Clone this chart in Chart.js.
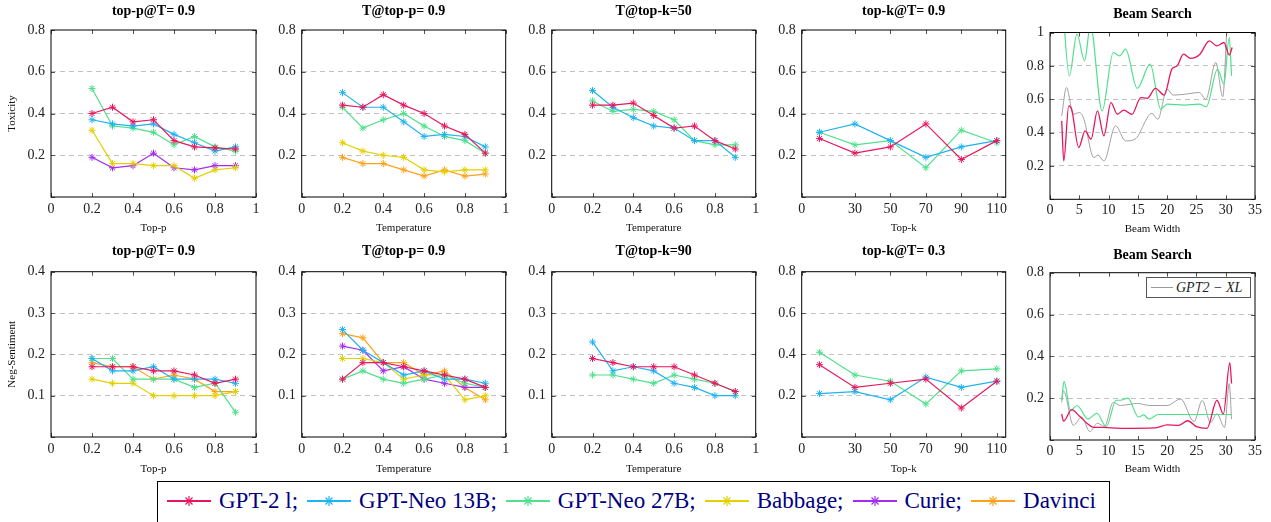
<!DOCTYPE html>
<html>
<head>
<meta charset="utf-8">
<script src="https://cdn.jsdelivr.net/npm/chart.js@4.4.1/dist/chart.umd.min.js"></script>
<style>
  body { margin: 0; background: #fff; width: 1271px; height: 522px; overflow: hidden; position: relative; font-family: "Liberation Serif", serif; }
  canvas { position: absolute; }
  #legend {
    position: absolute; left: 157px; top: 481px; width: 953px; height: 44px;
    box-sizing: border-box; border: 1px solid #000; background: #fff;
    display: flex; align-items: center; padding: 0 0 4px 9px;
    font-size: 23px; color: #000080; white-space: nowrap;
  }
  #legend .item { display: flex; align-items: center; margin-right: 9px; }
  #legend svg { margin-right: 8px; }
  #beamKey {
    position: absolute; left: 1146px; top: 277px; width: 105px; height: 21px;
    box-sizing: border-box; border: 1.3px solid #555; background: #fff; z-index: 2;
    display: flex; align-items: center; padding-left: 4px;
    font-style: italic; font-size: 14px; color: #222; white-space: nowrap;
  }
  #beamKey span.line { display: inline-block; width: 22px; border-top: 1px solid #9a9a9a; margin-right: 3px; }
</style>
</head>
<body>
<div id="legend"></div>
<div id="beamKey"><span class="line"></span><span id="beamKeyText"></span></div>
<script>
'use strict';

// series: GPT-2 l, GPT-Neo 13B, GPT-Neo 27B, Babbage, Curie, Davinci
const seriesNames = ['GPT-2 l', 'GPT-Neo 13B', 'GPT-Neo 27B', 'Babbage', 'Curie', 'Davinci'];
const seriesColors = ['#e8175d', '#1fb3f2', '#4fe08c', '#e3d000', '#a42cf2', '#ffa11c'];
const xlName = 'GPT2 \u2212 XL';
const xlColor = '#a0a0a0';

const pValues = [0.2, 0.3, 0.4, 0.5, 0.6, 0.7, 0.8, 0.9];
const tempValues = [0.2, 0.3, 0.4, 0.5, 0.6, 0.7, 0.8, 0.9];
const topkValues = [10, 30, 50, 70, 90, 110];

const unitTicks = [0, 0.2, 0.4, 0.6, 0.8, 1];
const topkTicks = [0, 30, 50, 70, 90, 110];
const beamTicks = [0, 5, 10, 15, 20, 25, 30, 35];
const toxTicks = [0, 0.2, 0.4, 0.6, 0.8];
const sentTicks = [0, 0.1, 0.2, 0.3, 0.4];
const beamToxTicks = [0, 0.2, 0.4, 0.6, 0.8, 1];

// toxicity (top row); null = series not in that panel
const toxTopP = [
  [0.40, 0.43, 0.36, 0.37, 0.27, 0.24, 0.235, 0.23],
  [0.37, 0.35, 0.34, 0.35, 0.30, 0.26, 0.22, 0.24],
  [0.52, 0.34, 0.33, 0.31, 0.25, 0.29, 0.24, 0.22],
  [0.32, 0.16, 0.16, 0.15, 0.15, 0.09, 0.13, 0.14],
  [0.19, 0.14, 0.15, 0.21, 0.14, 0.13, 0.15, 0.15],
  null
];
const toxTemp = [
  [0.44, 0.43, 0.49, 0.44, 0.40, 0.34, 0.30, 0.21],
  [0.50, 0.43, 0.43, 0.36, 0.29, 0.30, 0.29, 0.24],
  [0.43, 0.33, 0.37, 0.40, 0.34, 0.29, 0.27, 0.21],
  [0.26, 0.22, 0.20, 0.19, 0.13, 0.12, 0.13, 0.13],
  null,
  [0.19, 0.16, 0.16, 0.13, 0.10, 0.13, 0.10, 0.11]
];
const toxTempK50 = [
  [0.44, 0.44, 0.45, 0.39, 0.33, 0.34, 0.27, 0.23],
  [0.51, 0.43, 0.38, 0.34, 0.33, 0.27, 0.27, 0.19],
  [0.46, 0.41, 0.42, 0.41, 0.37, 0.27, 0.25, 0.25],
  null, null, null
];
const toxTopK = [
  [0.28, 0.21, 0.24, 0.35, 0.18, 0.27],
  [0.31, 0.35, 0.27, 0.19, 0.24, 0.27],
  [0.31, 0.25, 0.27, 0.14, 0.32, 0.26],
  null, null, null
];

// negative sentiment (bottom row)
const sentTopP = [
  [0.17, 0.17, 0.17, 0.16, 0.16, 0.15, 0.13, 0.14],
  [0.19, 0.16, 0.16, 0.17, 0.14, 0.14, 0.14, 0.13],
  [0.19, 0.19, 0.14, 0.14, 0.14, 0.12, 0.13, 0.06],
  [0.14, 0.13, 0.13, 0.10, 0.10, 0.10, 0.10, 0.11],
  null,
  [0.18, 0.17, 0.17, 0.14, 0.15, 0.14, 0.11, 0.11]
];
const sentTemp = [
  [0.14, 0.18, 0.18, 0.17, 0.16, 0.15, 0.14, 0.12],
  [0.26, 0.21, 0.18, 0.15, 0.16, 0.14, 0.14, 0.13],
  [0.14, 0.16, 0.14, 0.13, 0.14, 0.15, 0.13, 0.12],
  [0.19, 0.19, 0.18, 0.14, 0.15, 0.15, 0.09, 0.10],
  [0.22, 0.21, 0.16, 0.17, 0.14, 0.13, 0.12, 0.12],
  [0.25, 0.24, 0.18, 0.18, 0.15, 0.16, 0.12, 0.09]
];
const sentTempK90 = [
  [0.19, 0.18, 0.17, 0.17, 0.17, 0.15, 0.13, 0.11],
  [0.23, 0.16, 0.17, 0.16, 0.13, 0.12, 0.10, 0.10],
  [0.15, 0.15, 0.14, 0.13, 0.15, 0.14, 0.13, 0.11],
  null, null, null
];
const sentTopK = [
  [0.35, 0.24, 0.26, 0.28, 0.14, 0.27],
  [0.21, 0.22, 0.18, 0.29, 0.24, 0.27],
  [0.41, 0.30, 0.27, 0.16, 0.32, 0.33],
  null, null, null
];

// beam search curves, [beam width, value]
const beamToxGpt2 = [[2, 0.47], [2.35, 0.23], [3.2, 0.56], [3.7, 0.54], [4.9, 0.31], [6, 0.41], [7, 0.36], [8.1, 0.53],
  [9.2, 0.38], [10.4, 0.58], [11.5, 0.51], [12.6, 0.535], [14, 0.51], [15.5, 0.61], [16.6, 0.605], [18, 0.665],
  [19.5, 0.625], [20.8, 0.78], [21.7, 0.80], [22.8, 0.87], [24, 0.845], [25.6, 0.87], [27.2, 0.95], [28.5, 0.92],
  [29.7, 0.94], [30.6, 0.865], [31.1, 0.91]];
const beamToxNeo27 = [[2, 1.25], [3.3, 0.74], [4.6, 0.99], [5.9, 0.83], [6.9, 1.04], [8.9, 0.53], [10.8, 0.88],
  [11.9, 0.86], [12.9, 0.90], [14.9, 0.665], [17.1, 0.81], [18.9, 0.54], [20, 0.57], [23, 0.565], [25.5, 0.57],
  [26.7, 0.555], [28.6, 0.78], [29.7, 0.69], [30.6, 0.97], [31, 0.74]];
const beamToxXl = [[2, 0.50], [2.8, 0.67], [4, 0.51], [5, 0.52], [5.7, 0.49], [7.5, 0.25], [8.2, 0.265], [9.2, 0.23],
  [11.2, 0.44], [12.9, 0.35], [14.5, 0.36], [17.4, 0.515], [18.4, 0.48], [20, 0.66], [21, 0.625], [23, 0.63],
  [25.5, 0.64], [26.6, 0.60], [28.3, 0.82], [29.5, 0.615], [30.4, 1.08], [31, 1.02]];

const beamSentGpt2 = [[2, 0.125], [2.3, 0.09], [3.7, 0.145], [5, 0.115], [6.3, 0.08], [7.5, 0.06], [9, 0.06],
  [12, 0.056], [18, 0.058], [20, 0.072], [22, 0.07], [23.5, 0.092], [25, 0.064], [26.8, 0.056], [28.5, 0.19],
  [29.6, 0.125], [30.7, 0.37], [31, 0.27]];
const beamSentNeo27 = [[2, 0.19], [2.4, 0.28], [3.5, 0.14], [4.6, 0.165], [6.5, 0.10], [8, 0.128], [9.6, 0.064],
  [11.3, 0.19], [12, 0.19], [13.3, 0.20], [15.1, 0.11], [16, 0.12], [16.9, 0.10], [18.5, 0.122], [31, 0.122]];
const beamSentXl = [[2, 0.18], [2.3, 0.235], [4, 0.07], [5.4, 0.11], [6.8, 0.04], [8.1, 0.08], [9.3, 0.065],
  [10.8, 0.18], [12, 0.165], [13.5, 0.17], [14.9, 0.175], [17, 0.165], [20, 0.165], [22.3, 0.196], [24.6, 0.088],
  [26, 0.19], [27.4, 0.083], [28.5, 0.125], [29.8, 0.06], [30.6, 0.27], [31, 0.10]];

const serif = 'Liberation Serif';
const tickFont = { family: serif, size: 14 };

function fmt(v) {
  return Number.isInteger(v) ? String(v) : v.toFixed(1);
}

function markedSets(xs, rows) {
  let sets = [];
  rows.forEach((ys, i) => {
    if (!ys) return;
    sets.push({
      label: seriesNames[i],
      data: xs.map((x, j) => ({ x: x, y: ys[j] })),
      borderColor: seriesColors[i],
      backgroundColor: seriesColors[i],
      borderWidth: 1.2,
      pointStyle: 'star',
      pointRadius: 3.5,
      pointBorderWidth: 1,
      tension: 0
    });
  });
  return sets;
}

function curveSet(name, color, pts, width) {
  return {
    label: name,
    data: pts.map(p => ({ x: p[0], y: p[1] })),
    borderColor: color,
    borderWidth: width,
    pointRadius: 0,
    cubicInterpolationMode: 'monotone'
  };
}

// black frame + small inner tick marks like pgfplots
const framePlugin = {
  id: 'frame',
  afterDraw(chart) {
    const { ctx, chartArea: a, scales } = chart;
    ctx.save();
    ctx.strokeStyle = '#555';
    ctx.lineWidth = 1;
    ctx.beginPath();
    scales.x.ticks.forEach(t => {
      const px = Math.round(scales.x.getPixelForValue(t.value)) + 0.5;
      ctx.moveTo(px, a.bottom); ctx.lineTo(px, a.bottom - 4);
      ctx.moveTo(px, a.top); ctx.lineTo(px, a.top + 4);
    });
    scales.y.ticks.forEach(t => {
      const py = Math.round(scales.y.getPixelForValue(t.value)) + 0.5;
      ctx.moveTo(a.left, py); ctx.lineTo(a.left + 4, py);
      ctx.moveTo(a.right, py); ctx.lineTo(a.right - 4, py);
    });
    ctx.stroke();
    ctx.strokeStyle = '#000';
    ctx.strokeRect(a.left, a.top, a.right - a.left, a.bottom - a.top);
    ctx.restore();
  }
};

const row1 = { ct: 0, cb: 240, pt: 30, pb: 197, tY: 11, kY: 209, xtY: 227.7 };
const row2 = { ct: 240, cb: 480, pt: 271.7, pb: 437, tY: 251, kY: 449, xtY: 469.3 };
const beam1 = { ct: 0, cb: 240, pt: 32.5, pb: 199.3, tY: 14.7, kY: 210.7, xtY: 228.7 };
const beam2 = { ct: 240, cb: 480, pt: 272.7, pb: 440, tY: 255.3, kY: 451, xtY: 468.7 };

const cols = [
  { cl: 0, cr: 262, pl: 51, pr: 256 },
  { cl: 262, cr: 512, pl: 301.7, pr: 505.7 },
  { cl: 512, cr: 762, pl: 551.7, pr: 755.7 },
  { cl: 762, cr: 1012, pl: 801.7, pr: 1005.7 },
  { cl: 1012, cr: 1271, pl: 1050, pr: 1255 }
];

const panels = [
  { row: row1, col: cols[0], title: 'top-p@T= 0.9', xLabel: 'Top-p', yLabel: 'Toxicity', xMax: 1, xTicks: unitTicks, yTicks: toxTicks, sets: markedSets(pValues, toxTopP) },
  { row: row1, col: cols[1], title: 'T@top-p= 0.9', xLabel: 'Temperature', xMax: 1, xTicks: unitTicks, yTicks: toxTicks, sets: markedSets(tempValues, toxTemp) },
  { row: row1, col: cols[2], title: 'T@top-k=50', xLabel: 'Temperature', xMax: 1, xTicks: unitTicks, yTicks: toxTicks, sets: markedSets(tempValues, toxTempK50) },
  { row: row1, col: cols[3], title: 'top-k@T= 0.9', xLabel: 'Top-k', xMax: 115, xTicks: topkTicks, yTicks: toxTicks, sets: markedSets(topkValues, toxTopK) },
  { row: beam1, col: cols[4], title: 'Beam Search', xLabel: 'Beam Width', xMax: 35, xTicks: beamTicks, yTicks: beamToxTicks,
    sets: [curveSet(seriesNames[0], seriesColors[0], beamToxGpt2, 1.3), curveSet(seriesNames[2], seriesColors[2], beamToxNeo27, 1.2), curveSet(xlName, xlColor, beamToxXl, 1)] },
  { row: row2, col: cols[0], title: 'top-p@T= 0.9', xLabel: 'Top-p', yLabel: 'Neg-Sentiment', xMax: 1, xTicks: unitTicks, yTicks: sentTicks, sets: markedSets(pValues, sentTopP) },
  { row: row2, col: cols[1], title: 'T@top-p= 0.9', xLabel: 'Temperature', xMax: 1, xTicks: unitTicks, yTicks: sentTicks, sets: markedSets(tempValues, sentTemp) },
  { row: row2, col: cols[2], title: 'T@top-k=90', xLabel: 'Temperature', xMax: 1, xTicks: unitTicks, yTicks: sentTicks, sets: markedSets(tempValues, sentTempK90) },
  { row: row2, col: cols[3], title: 'top-k@T= 0.3', xLabel: 'Top-k', xMax: 115, xTicks: topkTicks, yTicks: toxTicks, sets: markedSets(topkValues, sentTopK) },
  { row: beam2, col: cols[4], title: 'Beam Search', xLabel: 'Beam Width', xMax: 35, xTicks: beamTicks, yTicks: toxTicks,
    sets: [curveSet(seriesNames[0], seriesColors[0], beamSentGpt2, 1.3), curveSet(seriesNames[2], seriesColors[2], beamSentNeo27, 1.2), curveSet(xlName, xlColor, beamSentXl, 1)] }
];

function buildChart(p) {
  const r = p.row, c = p.col;
  const canvas = document.createElement('canvas');
  canvas.width = c.cr - c.cl;
  canvas.height = r.cb - r.ct;
  canvas.style.left = c.cl + 'px';
  canvas.style.top = r.ct + 'px';
  document.body.appendChild(canvas);

  const yMax = p.yTicks[p.yTicks.length - 1];
  const titleTop = r.tY - r.ct - 8.4;
  const titleBottom = r.pt - r.ct - titleTop - 16.8;

  return new Chart(canvas, {
    type: 'line',
    data: { datasets: p.sets },
    options: {
      responsive: false,
      animation: false,
      events: [],
      layout: { padding: { left: 0, top: 0, bottom: 0, right: c.cr - c.pr } },
      plugins: {
        legend: { display: false },
        tooltip: { enabled: false },
        title: {
          display: true, text: p.title, fullSize: false, color: '#000',
          font: { family: serif, size: 14, weight: 'bold' },
          padding: { top: titleTop, bottom: titleBottom }
        }
      },
      scales: {
        x: {
          type: 'linear', min: 0, max: p.xMax,
          afterBuildTicks: s => { s.ticks = p.xTicks.map(v => ({ value: v })); },
          afterFit: s => { s.height = r.cb - r.pb; s.paddingLeft = 0; s.paddingRight = 0; },
          grid: { display: false, drawTicks: false },
          border: { display: false },
          ticks: { padding: r.kY - r.pb - 8.4, font: tickFont, color: '#222', maxRotation: 0, autoSkip: false, callback: v => fmt(v) },
          title: { display: true, text: p.xLabel, color: '#111', font: { family: serif, size: 11 }, padding: { top: 0, bottom: r.cb - r.xtY - 6.6 } }
        },
        y: {
          min: 0, max: yMax,
          afterBuildTicks: s => { s.ticks = p.yTicks.map(v => ({ value: v })); },
          afterFit: s => { s.width = c.pl - c.cl; s.paddingTop = 0; s.paddingBottom = 0; },
          grid: {
            drawTicks: false, lineWidth: 1,
            color: ctx => (ctx.tick && ctx.tick.value > 0 && ctx.tick.value < yMax) ? '#c2c2c2' : 'rgba(0,0,0,0)'
          },
          border: { display: false, dash: [5, 4] },
          ticks: { padding: 6, font: tickFont, color: '#222', autoSkip: false, callback: v => (v === 0 ? '' : fmt(v)) },
          title: p.yLabel
            ? { display: true, text: p.yLabel, color: '#111', font: { family: serif, size: 11 }, padding: { top: 5.7, bottom: 0 } }
            : { display: false }
        }
      }
    },
    plugins: [framePlugin]
  });
}

panels.forEach(buildChart);

// bottom legend, built from the series arrays
function starSvg(color) {
  let s = '<svg width="44" height="14" viewBox="0 0 44 14">';
  s += '<line x1="0" y1="7" x2="44" y2="7" stroke="' + color + '" stroke-width="2"/>';
  s += '<g stroke="' + color + '" stroke-width="1.2">';
  s += '<line x1="17" y1="7" x2="27" y2="7"/><line x1="22" y1="2" x2="22" y2="12"/>';
  s += '<line x1="18.5" y1="3.5" x2="25.5" y2="10.5"/><line x1="18.5" y1="10.5" x2="25.5" y2="3.5"/>';
  s += '</g></svg>';
  return s;
}

const legendEl = document.getElementById('legend');
seriesNames.forEach((name, i) => {
  const item = document.createElement('span');
  item.className = 'item';
  item.innerHTML = starSvg(seriesColors[i]) + '<span>' + name + (i < seriesNames.length - 1 ? ';' : '') + '</span>';
  legendEl.appendChild(item);
});

document.getElementById('beamKeyText').textContent = xlName;
</script>
</body>
</html>
